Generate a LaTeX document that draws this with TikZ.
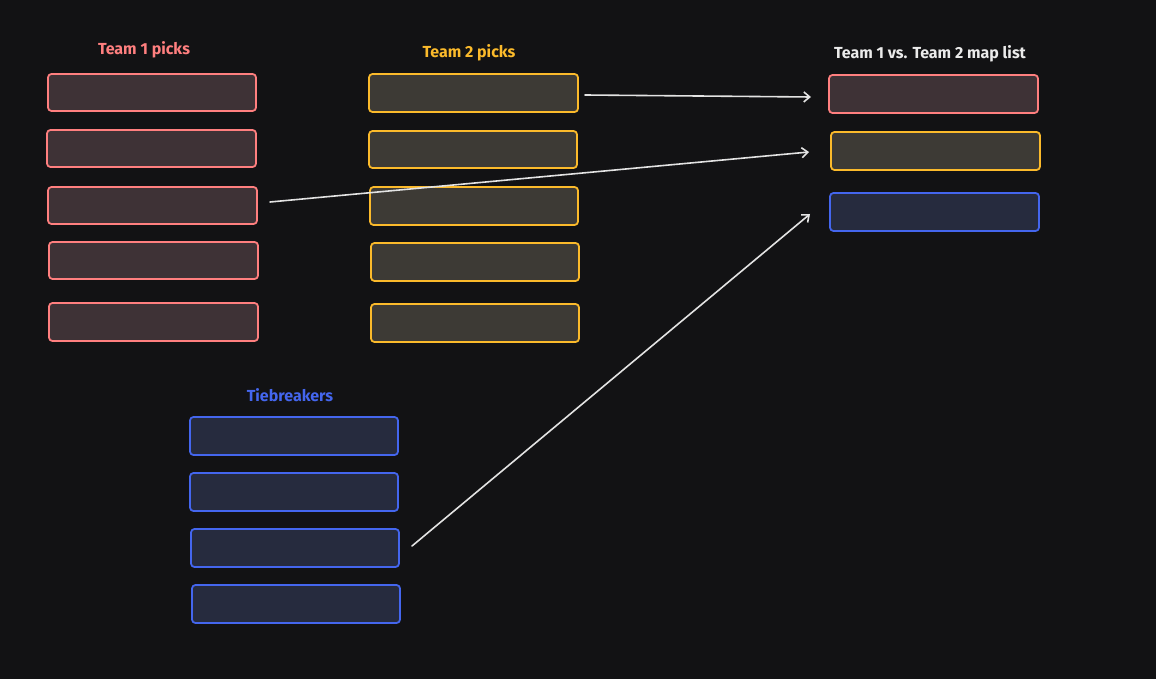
\documentclass[tikz,border=0pt]{standalone}
\usepackage{fontspec}
\setmainfont{Fira Sans}
\usetikzlibrary{arrows.meta}
\definecolor{bg}{HTML}{121214}
\definecolor{redline}{HTML}{FF7F7F}
\definecolor{redfill}{HTML}{3E3236}
\definecolor{yelline}{HTML}{FBBA2B}
\definecolor{yelfill}{HTML}{3D3A35}
\definecolor{bluline}{HTML}{4466EE}
\definecolor{blufill}{HTML}{262B3E}
\definecolor{arrowcol}{HTML}{E3E3E3}
\tikzset{
  slot/.style={draw, line width=1.8pt, rounded corners=3.5pt},
  redslot/.style={slot, draw=redline, fill=redfill},
  yelslot/.style={slot, draw=yelline, fill=yelfill},
  bluslot/.style={slot, draw=bluline, fill=blufill},
  title/.style={font=\fontsize{16}{19}\selectfont\bfseries, anchor=center},
  link/.style={draw=arrowcol, line width=1.6pt, line cap=round,
    -{Straight Barb[length=6pt,width=10pt,line width=1.6pt]}}
}
\newcommand{\slotbox}[6]{% style, name, x1, y1, x2, y2
  \path[#1] (#3,#4) rectangle (#5,#6);
  \coordinate (#2-w) at (#3,{(#4+#6)/2});
  \coordinate (#2-e) at (#5,{(#4+#6)/2});
}
\begin{document}
\begin{tikzpicture}[x=1pt,y=-1pt]
  \fill[bg] (0,0) rectangle (1156,679);
  \useasboundingbox (0,0) rectangle (1156,679);

  % column titles
  \node[title, text=redline] (t1title) at (144,50) {Team 1 picks};
  \node[title, text=yelline] (t2title) at (469,53) {Team 2 picks};
  \node[title, text=white!92!black] (mltitle) at (930,54) {Team 1 vs. Team 2 map list};
  \node[title, text=bluline] (tbtitle) at (290,395) {Tiebreakers};

  % Team 1 picks
  \slotbox{redslot}{ta}{48}{74}{256}{111}
  \slotbox{redslot}{tb}{47}{130}{256}{167}
  \slotbox{redslot}{tc}{48}{187}{257}{224}
  \slotbox{redslot}{td}{49}{242}{258}{279}
  \slotbox{redslot}{te}{49}{303}{258}{341}

  % Team 2 picks
  \slotbox{yelslot}{ua}{369}{74}{578}{112}
  \slotbox{yelslot}{ub}{369}{131}{577}{168}
  \slotbox{yelslot}{uc}{370}{187}{578}{225}
  \slotbox{yelslot}{ud}{371}{243}{579}{281}
  \slotbox{yelslot}{ue}{371}{304}{579}{342}

  % Tiebreakers
  \slotbox{bluslot}{va}{190}{417}{398}{455}
  \slotbox{bluslot}{vb}{190}{473}{398}{511}
  \slotbox{bluslot}{vc}{191}{529}{399}{567}
  \slotbox{bluslot}{vd}{192}{585}{400}{623}

  % Map list
  \slotbox{redslot}{ma}{829}{75}{1038}{113}
  \slotbox{yelslot}{mb}{831}{132}{1040}{170}
  \slotbox{bluslot}{mc}{830}{193}{1039}{231}

  % arrow ends, just clear of the slots they join
  \coordinate (ua-out) at (585,95);
  \coordinate (ma-in)  at (811,97);
  \coordinate (tc-out) at (270,202);
  \coordinate (mb-in)  at (809,152);
  \coordinate (vc-out) at (412,546);
  \coordinate (mc-in)  at (810,214);

  % picks flowing into the map list
  \draw[link] (ua-out) -- (ma-in);
  \draw[link] (tc-out) -- (mb-in);
  \draw[link] (vc-out) -- (mc-in);
\end{tikzpicture}
\end{document}
